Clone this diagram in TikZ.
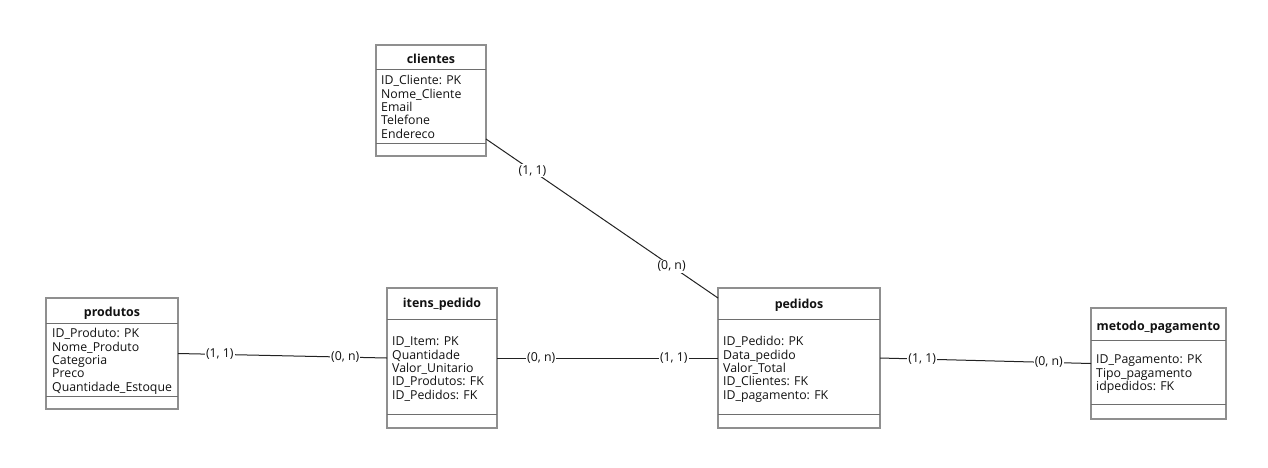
\documentclass[tikz,border=0pt]{standalone}
\usepackage{fontspec}
\setmainfont{Open Sans}
\usetikzlibrary{calc}
\definecolor{boxgray}{HTML}{8F8F8F}
\definecolor{sepgray}{HTML}{6E6E6E}
\definecolor{linecol}{HTML}{222222}
\definecolor{txt}{HTML}{111111}
\tikzset{
  ent/.style={draw=boxgray, line width=1.6pt, rectangle, anchor=north west, inner sep=0pt, outer sep=0pt},
  sepline/.style={draw=sepgray, line width=1pt},
  etitle/.style={font=\fontsize{12.4}{13.4}\selectfont\bfseries, text=txt, inner sep=0pt, anchor=base},
  attrs/.style={font=\fontsize{12.3}{13.4}\selectfont, text=txt, inner sep=0pt, anchor=north west, align=left},
  rel/.style={draw=linecol, line width=1pt},
  card/.style={font=\fontsize{12.3}{13.4}\selectfont, text=txt, fill=white, inner sep=1pt},
}
\begin{document}
\begin{tikzpicture}[x=1pt,y=-1pt]
\useasboundingbox (0,0) rectangle (1268,467);
% clientes
\node[ent, minimum width=110pt, minimum height=111pt] (cli) at (376,45) {};
\draw[sepline] ($(cli.north west)+(0,24)$) -- ($(cli.north east)+(0,24)$);
\draw[sepline] ($(cli.south west)+(0,-13)$) -- ($(cli.south east)+(0,-13)$);
\node[etitle] (cli-t) at ($(cli.north)+(0,18.5)$) {clientes};
\node[attrs] (cli-a) at ($(cli.north west)+(5,30.1)$) {\strut ID\_Cliente: PK\\Nome\_Cliente\\Email\\Telefone\\Endereco};
% produtos
\node[ent, minimum width=132pt, minimum height=111pt] (prod) at (46,298) {};
\draw[sepline] ($(prod.north west)+(0,25)$) -- ($(prod.north east)+(0,25)$);
\draw[sepline] ($(prod.south west)+(0,-13)$) -- ($(prod.south east)+(0,-13)$);
\node[etitle] (prod-t) at ($(prod.north)+(0,18.5)$) {produtos};
\node[attrs] (prod-a) at ($(prod.north west)+(6,30.1)$) {\strut ID\_Produto: PK\\Nome\_Produto\\Categoria\\Preco\\Quantidade\_Estoque};
% itens_pedido
\node[ent, minimum width=110pt, minimum height=140pt] (itens) at (387,288) {};
\draw[sepline] ($(itens.north west)+(0,31)$) -- ($(itens.north east)+(0,31)$);
\draw[sepline] ($(itens.south west)+(0,-14)$) -- ($(itens.south east)+(0,-14)$);
\node[etitle] (itens-t) at ($(itens.north)+(0,19.5)$) {itens\_pedido};
\node[attrs] (itens-a) at ($(itens.north west)+(5,48.1)$) {\strut ID\_Item: PK\\Quantidade\\Valor\_Unitario\\ID\_Produtos: FK\\ID\_Pedidos: FK};
% pedidos
\node[ent, minimum width=162pt, minimum height=140pt] (ped) at (718,288) {};
\draw[sepline] ($(ped.north west)+(0,31)$) -- ($(ped.north east)+(0,31)$);
\draw[sepline] ($(ped.south west)+(0,-14)$) -- ($(ped.south east)+(0,-14)$);
\node[etitle] (ped-t) at ($(ped.north)+(0,20.5)$) {pedidos};
\node[attrs] (ped-a) at ($(ped.north west)+(5,48.1)$) {\strut ID\_Pedido: PK\\Data\_pedido\\Valor\_Total\\ID\_Clientes: FK\\ID\_pagamento: FK};
% metodo_pagamento
\node[ent, minimum width=135pt, minimum height=111pt] (met) at (1091,308) {};
\draw[sepline] ($(met.north west)+(0,32)$) -- ($(met.north east)+(0,32)$);
\draw[sepline] ($(met.south west)+(0,-15)$) -- ($(met.south east)+(0,-15)$);
\node[etitle] (met-t) at ($(met.north)+(0,22.5)$) {metodo\_pagamento};
\node[attrs] (met-a) at ($(met.north west)+(5,46.1)$) {\strut ID\_Pagamento: PK\\Tipo\_pagamento\\idpedidos: FK};
% relationships
\draw[rel] (prod.east) -- node[card, pos=0.2] (l1a) {(1, 1)} node[card, pos=0.8] (l1b) {(0, n)} (itens.west);
\draw[rel] (itens.east) -- node[card, pos=0.2] (l2a) {(0, n)} node[card, pos=0.8] (l2b) {(1, 1)} (ped.west);
\draw[rel] (ped.east) -- node[card, pos=0.2] (l3a) {(1, 1)} node[card, pos=0.8] (l3b) {(0, n)} (met.west);
\draw[rel] ($(cli.south east)+(0,-17)$) -- node[card, pos=0.2] (l4a) {(1, 1)} node[card, pos=0.8] (l4b) {(0, n)} ($(ped.north west)+(0,10)$);
\end{tikzpicture}
\end{document}
